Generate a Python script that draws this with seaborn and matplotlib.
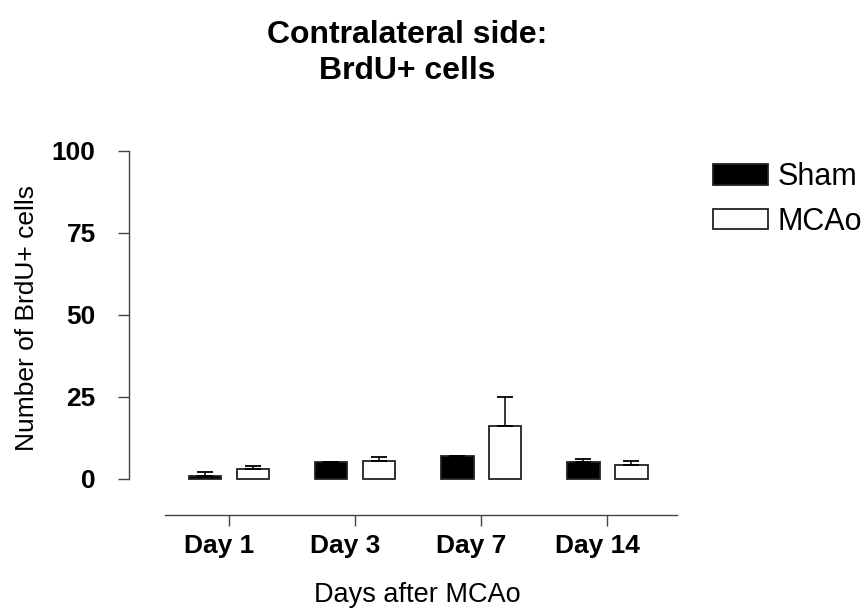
import numpy as np
import pandas as pd
import matplotlib
matplotlib.use('Agg')
import matplotlib.pyplot as plt
import matplotlib.transforms as mtransforms
import seaborn as sns

days = ['Day 1', 'Day 3', 'Day 7', 'Day 14']
groups = ['Sham', 'MCAo']
sham_mean = [1.0, 5.3, 7.1, 5.3]
sham_sem = [1.0, 0.0, 0.0, 0.7]
mcao_mean = [3.0, 5.5, 16.1, 4.3]
mcao_sem = [0.9, 1.1, 9.0, 1.2]

df = pd.DataFrame({
    'day': days * 2,
    'group': ['Sham'] * 4 + ['MCAo'] * 4,
    'cells': sham_mean + mcao_mean,
})
sems = {'Sham': sham_sem, 'MCAo': mcao_sem}

sns.set_style('white')
plt.rcParams['font.family'] = ['Liberation Sans', 'DejaVu Sans']
plt.rcParams['text.color'] = 'black'
plt.rcParams['axes.labelcolor'] = 'black'
plt.rcParams['xtick.labelcolor'] = 'black'
plt.rcParams['ytick.labelcolor'] = 'black'

fig = plt.figure(figsize=(8.62, 6.09), dpi=100)
W, H = 862, 609
ax = fig.add_axes([129 / W, 1 - 515 / H, (677 - 129) / W, (515 - 151) / H])

sns.barplot(data=df, x='day', y='cells', hue='group', hue_order=groups,
            palette={'Sham': 'black', 'MCAo': 'white'}, edgecolor='#222222',
            linewidth=1.3, width=0.76, gap=0.32, errorbar=None, ax=ax)

# upward-only SEM bars
for cont, g in zip(ax.containers, groups):
    xs = [p.get_x() + p.get_width() / 2 for p in cont.patches]
    hs = [p.get_height() for p in cont.patches]
    err = np.array(sems[g])
    ax.errorbar(xs, hs, yerr=[np.zeros_like(err), err], fmt='none',
                ecolor='black', elinewidth=1.1, capsize=6, capthick=1.3, zorder=1)

ax.set_xlim(-0.794, 3.553)
ax.set_ylim(-10.98, 100)
ax.set_yticks([0, 25, 50, 75, 100])

for s in ['top', 'right']:
    ax.spines[s].set_visible(False)
ax.spines['left'].set_bounds(0, 100)
ax.spines['bottom'].set_bounds(-0.508, 3.553)
for s in ['left', 'bottom']:
    ax.spines[s].set_color('#444444')
    ax.spines[s].set_linewidth(1.0)

ax.tick_params(axis='both', direction='out', length=8, width=1.0, color='#444444',
               labelcolor='black', labelsize=19, bottom=True, left=True)
ax.tick_params(axis='y', pad=16)
ax.tick_params(axis='x', pad=6)
for lab in ax.get_xticklabels() + ax.get_yticklabels():
    lab.set_fontweight('bold')
shift = mtransforms.ScaledTranslation(-10 / 100, 0, fig.dpi_scale_trans)
for lab in ax.get_xticklabels():
    lab.set_transform(lab.get_transform() + shift)

ax.set_xlabel('Days after MCAo', fontsize=19.5, color='black')
ax.set_ylabel('Number of BrdU+ cells', fontsize=19, color='black')
ax.xaxis.set_label_coords(0.526, -0.183)
ax.yaxis.set_label_coords(-0.165, 0.541)

fig.text(407 / W, 1 - 53 / H, 'Contralateral side:\nBrdU+ cells', ha='center',
         va='center', fontsize=23, fontweight='bold', linespacing=1.3, color='black')

handles, labels = ax.get_legend_handles_labels()
leg = ax.legend(handles, labels, loc='upper left', bbox_to_anchor=(713 / W, 1 - 162 / H),
                bbox_transform=fig.transFigure, frameon=False, fontsize=22,
                handlelength=1.8, handleheight=0.66, handletextpad=0.3,
                labelspacing=0.48, borderpad=0, borderaxespad=0)
for t in leg.get_texts():
    t.set_color('black')

fig.savefig('out.png', dpi=100)
